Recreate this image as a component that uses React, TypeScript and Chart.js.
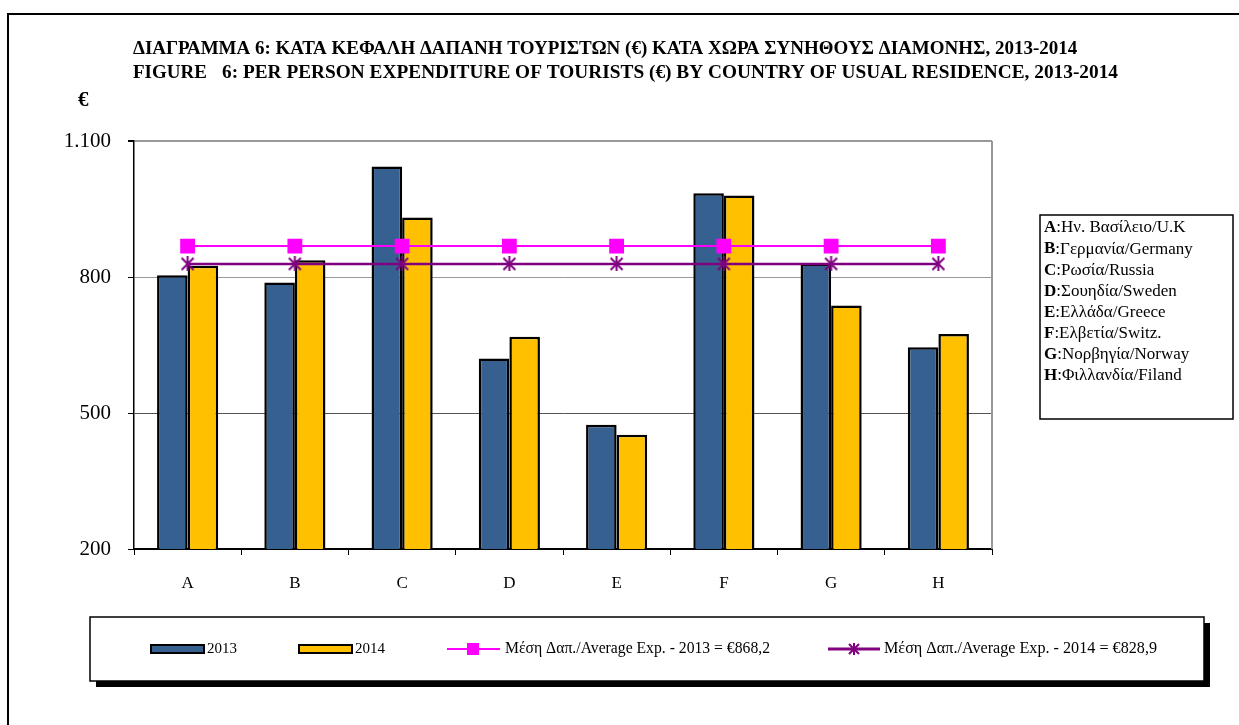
import React, { useEffect, useRef } from "react";
import { Chart, registerables } from "chart.js";

Chart.register(...registerables);

const categories = ["A", "B", "C", "D", "E", "F", "G", "H"];
const values2013 = [804, 788, 1044, 620, 474, 985, 830, 645];
const values2014 = [825, 837, 931, 668, 452, 980, 737, 674];
const average2013 = [868.2, 868.2, 868.2, 868.2, 868.2, 868.2, 868.2, 868.2];
const average2014 = [828.9, 828.9, 828.9, 828.9, 828.9, 828.9, 828.9, 828.9];
const yTickValues = [200, 500, 800, 1100];

const seriesLabels = [
  "2013",
  "2014",
  "Μέση Δαπ./Average Exp. - 2013 = €868,2",
  "Μέση Δαπ./Average Exp. - 2014 = €828,9",
];
const countryLetters = ["A", "B", "C", "D", "E", "F", "G", "H"];
const countryNames = [
  ":Ην. Βασίλειο/U.K",
  ":Γερμανία/Germany",
  ":Ρωσία/Russia",
  ":Σουηδία/Sweden",
  ":Ελλάδα/Greece",
  ":Ελβετία/Switz.",
  ":Νορβηγία/Norway",
  ":Φιλλανδία/Filand",
];
const titleLine1 = "ΔΙΑΓΡΑΜΜΑ 6: ΚΑΤΑ ΚΕΦΑΛΗ ΔΑΠΑΝΗ ΤΟΥΡΙΣΤΩΝ (€) ΚΑΤΑ ΧΩΡΑ ΣΥΝΗΘΟΥΣ ΔΙΑΜΟΝΗΣ, 2013-2014";
const titleLine2a = "FIGURE";
const titleLine2b = "6: PER PERSON EXPENDITURE OF TOURISTS (€) BY COUNTRY OF USUAL RESIDENCE, 2013-2014";
const unitLabel = "€";

const COL2013 = "#36608F";
const COL2014 = "#FFC000";
const COLAVG13 = "#FF00FF";
const COLAVG14 = "#800080";
const SERIF = "'Liberation Serif', 'Times New Roman', serif";

function makeStar(size: number, color: string, lw: number): HTMLCanvasElement {
  const c = document.createElement("canvas");
  c.width = size;
  c.height = size;
  const g = c.getContext("2d")!;
  g.strokeStyle = color;
  g.lineWidth = lw;
  const m = lw / 2 + 0.5;
  g.beginPath();
  g.moveTo(m, m);
  g.lineTo(size - m, size - m);
  g.moveTo(size - m, m);
  g.lineTo(m, size - m);
  g.moveTo(size / 2, 0);
  g.lineTo(size / 2, size);
  g.stroke();
  return c;
}

function drawStar(ctx: CanvasRenderingContext2D, x: number, y: number, r: number, color: string, lw: number) {
  ctx.save();
  ctx.strokeStyle = color;
  ctx.lineWidth = lw;
  ctx.beginPath();
  ctx.moveTo(x - r, y - r);
  ctx.lineTo(x + r, y + r);
  ctx.moveTo(x + r, y - r);
  ctx.lineTo(x - r, y + r);
  ctx.moveTo(x, y - r - 1);
  ctx.lineTo(x, y + r + 1);
  ctx.stroke();
  ctx.restore();
}

function fitText(ctx: CanvasRenderingContext2D, text: string, x: number, y: number, width: number, font: string) {
  ctx.font = font;
  const w = ctx.measureText(text).width;
  ctx.save();
  ctx.translate(x, y);
  ctx.scale(width / w, 1);
  ctx.fillText(text, 0, 0);
  ctx.restore();
}

const decorPlugin = {
  id: "decor",
  afterDraw(chart: any) {
    const ctx: CanvasRenderingContext2D = chart.ctx;
    const area = chart.chartArea;
    ctx.save();

    // outer frame
    ctx.strokeStyle = "#000";
    ctx.lineWidth = 2;
    ctx.strokeRect(8, 14, 1400, 900);

    // plot right border
    ctx.strokeStyle = "#999";
    ctx.lineWidth = 2;
    ctx.beginPath();
    ctx.moveTo(area.right, area.top);
    ctx.lineTo(area.right, area.bottom);
    ctx.stroke();

    // title
    ctx.fillStyle = "#000";
    ctx.textBaseline = "middle";
    ctx.textAlign = "left";
    ctx.font = `bold 15px ${SERIF}`;
    const w1 = ctx.measureText(titleLine1).width;
    const fs = 15 * (945 / w1);
    const tfont = `bold ${fs.toFixed(2)}px ${SERIF}`;
    ctx.font = tfont;
    ctx.fillText(titleLine1, 133, 49);
    ctx.fillText(titleLine2a, 133, 73);
    fitText(ctx, titleLine2b, 222, 73, 896, tfont);

    // unit
    ctx.font = `bold 21px ${SERIF}`;
    ctx.fillText(unitLabel, 78, 101);

    // right legend box
    ctx.strokeStyle = "#000";
    ctx.lineWidth = 1.5;
    ctx.strokeRect(1040, 215, 193, 204);
    for (let i = 0; i < countryLetters.length; i++) {
      const y = 228 + i * 21.1;
      ctx.font = `bold 17px ${SERIF}`;
      ctx.fillText(countryLetters[i], 1044, y);
      const lw = ctx.measureText(countryLetters[i]).width;
      ctx.font = `17px ${SERIF}`;
      ctx.fillText(countryNames[i], 1044 + lw, y);
    }

    // bottom legend box with shadow
    ctx.fillStyle = "#000";
    ctx.fillRect(96, 623, 1114, 64);
    ctx.fillStyle = "#fff";
    ctx.fillRect(90, 617, 1114, 64);
    ctx.strokeStyle = "#000";
    ctx.lineWidth = 1.5;
    ctx.strokeRect(90, 617, 1114, 64);

    const ly = 649;
    ctx.font = `15px ${SERIF}`;
    ctx.textBaseline = "middle";
    // 2013
    ctx.fillStyle = COL2013;
    ctx.fillRect(151, ly - 4, 53, 8);
    ctx.strokeStyle = "#000";
    ctx.lineWidth = 2;
    ctx.strokeRect(151, ly - 4, 53, 8);
    ctx.fillStyle = "#000";
    ctx.fillText(seriesLabels[0], 207, ly);
    // 2014
    ctx.fillStyle = COL2014;
    ctx.fillRect(299, ly - 4, 53, 8);
    ctx.strokeRect(299, ly - 4, 53, 8);
    ctx.fillStyle = "#000";
    ctx.fillText(seriesLabels[1], 355, ly);
    // avg 2013
    ctx.strokeStyle = COLAVG13;
    ctx.lineWidth = 2;
    ctx.beginPath();
    ctx.moveTo(447, ly);
    ctx.lineTo(500, ly);
    ctx.stroke();
    ctx.fillStyle = COLAVG13;
    ctx.fillRect(467, ly - 6, 12, 12);
    ctx.fillStyle = "#000";
    fitText(ctx, seriesLabels[2], 505, ly, 265, `16px ${SERIF}`);
    // avg 2014
    ctx.strokeStyle = COLAVG14;
    ctx.lineWidth = 3;
    ctx.beginPath();
    ctx.moveTo(828, ly);
    ctx.lineTo(880, ly);
    ctx.stroke();
    drawStar(ctx, 854, ly, 5, COLAVG14, 2);
    ctx.fillStyle = "#000";
    fitText(ctx, seriesLabels[3], 884, ly, 273, `16px ${SERIF}`);

    ctx.restore();
  },
};

export default function App() {
  const ref = useRef<HTMLCanvasElement | null>(null);

  useEffect(() => {
    if (!ref.current) return;
    const star = makeStar(15, COLAVG14, 2);
    const chart = new Chart(ref.current, {
      type: "bar",
      data: {
        labels: categories,
        datasets: [
          {
            type: "line",
            label: seriesLabels[2],
            data: average2013,
            borderColor: COLAVG13,
            backgroundColor: COLAVG13,
            borderWidth: 2,
            pointStyle: "rect",
            pointRadius: 10.5,
            pointBackgroundColor: COLAVG13,
            pointBorderColor: COLAVG13,
            pointBorderWidth: 0,
            tension: 0,
            order: 0,
          } as any,
          {
            type: "line",
            label: seriesLabels[3],
            data: average2014,
            borderColor: COLAVG14,
            backgroundColor: COLAVG14,
            borderWidth: 2.5,
            pointStyle: star as any,
            pointRadius: 7,
            tension: 0,
            order: 0,
          } as any,
          {
            label: seriesLabels[0],
            data: values2013,
            backgroundColor: COL2013,
            borderColor: "#000",
            borderWidth: 2.5,
            barPercentage: 1,
            categoryPercentage: 0.57,
            order: 1,
          },
          {
            label: seriesLabels[1],
            data: values2014,
            backgroundColor: COL2014,
            borderColor: "#000",
            borderWidth: 2.5,
            barPercentage: 1,
            categoryPercentage: 0.57,
            order: 1,
          },
        ],
      },
      options: {
        responsive: false,
        animation: false,
        devicePixelRatio: 1,
        layout: { padding: { top: 141, right: 247, left: 0, bottom: 0 } },
        plugins: {
          legend: { display: false },
          tooltip: { enabled: false },
          title: { display: false },
        },
        scales: {
          x: {
            offset: true,
            grid: {
              offset: true,
              drawOnChartArea: false,
              drawTicks: true,
              tickLength: 6,
              tickColor: "#000",
            },
            border: { color: "#000", width: 2 },
            ticks: {
              color: "#000",
              padding: 18,
              font: { family: SERIF, size: 17 },
              maxRotation: 0,
            },
            afterFit: (s: any) => {
              s.height = 176;
            },
          },
          y: {
            min: 200,
            max: 1100,
            afterBuildTicks: (s: any) => {
              s.ticks = yTickValues.map((v) => ({ value: v }));
            },
            grid: {
              color: (c: any) =>
                c.tick && c.tick.value === 200
                  ? "rgba(0,0,0,0)"
                  : c.tick && c.tick.value === 500
                  ? "#555"
                  : "#999",
              lineWidth: (c: any) => (c.tick && c.tick.value === 1100 ? 2 : 1),
              tickLength: 6,
              tickColor: "#000",
            },
            border: { color: "#000", width: 1.5 },
            ticks: {
              color: "#000",
              padding: 17,
              autoSkip: false,
              font: { family: SERIF, size: 21 },
              callback: (v: any) => String(v).replace(/\B(?=(\d{3})+(?!\d))/g, "."),
            },
            afterFit: (s: any) => {
              s.width = 134;
            },
          },
        },
      },
      plugins: [decorPlugin],
    });
    return () => chart.destroy();
  }, []);

  return (
    <div style={{ position: "absolute", left: 0, top: 0, width: 1239, height: 725, background: "#fff" }}>
      <canvas ref={ref} width={1239} height={725} style={{ width: 1239, height: 725, display: "block" }} />
    </div>
  );
}
